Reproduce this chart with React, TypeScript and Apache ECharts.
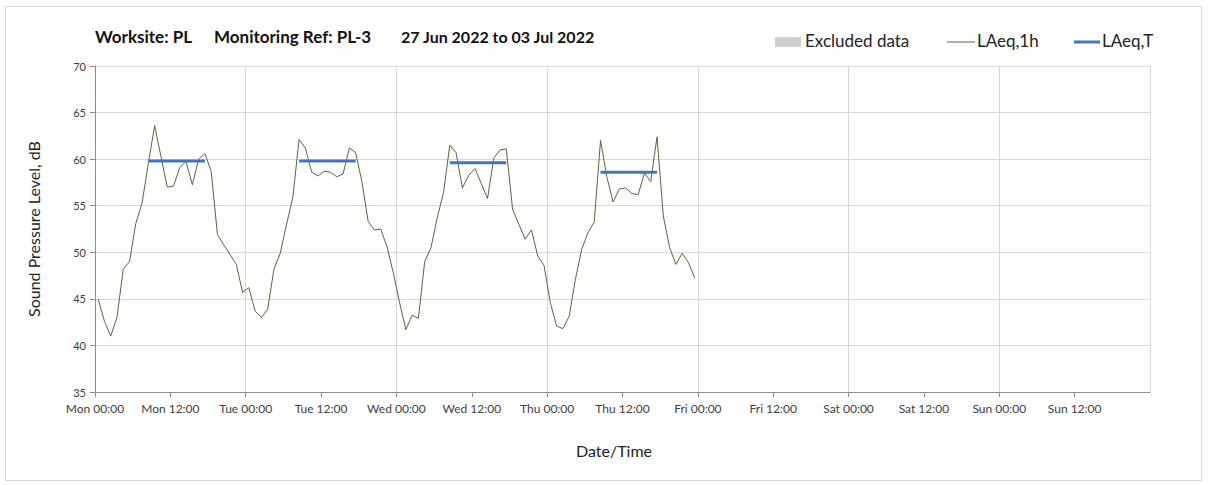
import React, { useEffect, useRef } from "react";
import * as echarts from "echarts";

// Hourly LAeq,1h values, Mon 00:30 .. Thu 23:30 (dB)
const laeq1h: number[] = [
  45.0, 42.6, 41.0, 43.0, 48.2, 49.0, 53.1, 55.3, 59.6, 63.6, 60.3, 57.0,
  57.1, 59.1, 59.75, 57.25, 60.0, 60.6, 58.7, 51.9, 50.8, 49.75, 48.7, 45.7,
  46.2, 43.7, 43.0, 43.9, 48.2, 49.9, 53.0, 55.9, 62.1, 61.2, 58.6, 58.2,
  58.7, 58.6, 58.1, 58.4, 61.2, 60.7, 57.6, 53.3, 52.4, 52.5, 50.6, 47.8,
  44.6, 41.7, 43.25, 42.9, 49.0, 50.5, 53.7, 56.4, 61.5, 60.7, 56.9, 58.25,
  59.0, 57.4, 55.75, 60.1, 61.0, 61.1, 54.6, 53.0, 51.4, 52.4, 49.6, 48.6,
  44.6, 42.1, 41.8, 43.1, 47.1, 50.3, 52.1, 53.25, 62.0, 58.1, 55.4, 56.8,
  56.9, 56.3, 56.2, 58.5, 57.6, 62.4, 53.9, 50.5, 48.7, 49.9, 48.9, 47.25,
];
const firstHour = 0.5; // hours after Mon 00:00 of first reading

// LAeq,T daytime periods (hours after Mon 00:00) and levels
const periodStart: number[] = [8.5, 32.5, 56.5, 80.5];
const periodEnd: number[] = [17.5, 41.5, 65.5, 89.5];
const laeqT: number[] = [59.8, 59.8, 59.6, 58.6];

const dayNames: string[] = ["Mon", "Tue", "Wed", "Thu", "Fri", "Sat", "Sun"];
const yTicks = { min: 35, max: 70, step: 5 };
const xRange = { min: 0, max: 168 };

const FONT = "Lato, 'Open Sans', sans-serif";

export default function App() {
  const ref = useRef<HTMLDivElement>(null);
  useEffect(() => {
    if (!ref.current) return;
    const chart = echarts.init(ref.current, undefined, { renderer: "svg" });

    const lineData = laeq1h.map((v, i) => [firstHour + i, v]);
    const tData: any[] = [];
    periodStart.forEach((s, k) => {
      tData.push([s, laeqT[k]]);
      tData.push([periodEnd[k], laeqT[k]]);
      tData.push([periodEnd[k], "-"]);
    });

    const labelFmt = (v: number) => {
      if (v >= xRange.max) return "";
      const d = dayNames[Math.floor(v / 24)];
      const h = v % 24 === 0 ? "00:00" : "12:00";
      return `${d} ${h}`;
    };

    chart.setOption({
      animation: false,
      textStyle: { fontFamily: FONT },
      grid: { left: 95, right: 58, top: 66, bottom: 93, outerBoundsMode: "none" },
      xAxis: [
        {
          type: "value",
          min: xRange.min,
          max: xRange.max,
          interval: 12,
          axisLine: { show: true, lineStyle: { color: "#8c8c8c" } },
          axisTick: { show: true, length: 5, lineStyle: { color: "#8c8c8c" } },
          axisLabel: {
            formatter: labelFmt,
            color: "#404040",
            fontSize: 12,
            margin: 10,
            showMaxLabel: false,
            fontFamily: FONT,
          },
          splitLine: { show: false },
        },
        {
          type: "value",
          min: xRange.min,
          max: xRange.max,
          interval: 24,
          position: "bottom",
          axisLine: { show: false },
          axisTick: { show: false },
          axisLabel: { show: false },
          splitLine: { show: true, lineStyle: { color: "#d9d9d9", width: 1 } },
        },
      ],
      yAxis: {
        type: "value",
        min: yTicks.min,
        max: yTicks.max,
        interval: yTicks.step,
        axisLine: { show: true, lineStyle: { color: "#8c8c8c" } },
        axisTick: { show: true, length: 5, lineStyle: { color: "#8c8c8c" } },
        axisLabel: { color: "#404040", fontSize: 11, margin: 9, fontFamily: FONT },
        splitLine: { show: true, lineStyle: { color: "#d9d9d9", width: 1 } },
        name: "Sound Pressure Level, dB",
        nameLocation: "middle",
        nameGap: 54,
        nameTextStyle: { fontSize: 16, color: "#222", fontFamily: FONT },
      },
      series: [
        {
          name: "LAeq,1h",
          type: "line",
          xAxisIndex: 0,
          data: lineData,
          showSymbol: false,
          symbol: "none",
          lineStyle: { color: "#4f6b3b", width: 1 },
          z: 3,
        },
        {
          name: "LAeq,T",
          type: "line",
          xAxisIndex: 0,
          data: tData,
          showSymbol: false,
          symbol: "none",
          connectNulls: false,
          lineStyle: { color: "#4472c4", width: 3 },
          z: 4,
        },
      ],
      graphic: [
        {
          type: "rect",
          shape: { x: 5.5, y: 6.5, width: 1196, height: 474 },
          style: { fill: "none", stroke: "#d9d9d9", lineWidth: 1 },
          silent: true,
        },
        {
          type: "text",
          left: 95,
          top: 28,
          style: { text: "Worksite: PL", font: `bold 17px ${FONT}`, fill: "#111" },
        },
        {
          type: "text",
          left: 214,
          top: 28,
          style: { text: "Monitoring Ref: PL-3", font: `bold 17px ${FONT}`, fill: "#111" },
        },
        {
          type: "text",
          left: 401,
          top: 28,
          style: { text: "27 Jun 2022 to 03 Jul 2022", font: `bold 16px ${FONT}`, fill: "#111" },
        },
        {
          type: "text",
          x: 614,
          y: 450,
          style: {
            text: "Date/Time",
            font: `16px ${FONT}`,
            fill: "#222",
            align: "center",
            verticalAlign: "middle",
          },
        },
        {
          type: "rect",
          shape: { x: 775, y: 37, width: 26, height: 10 },
          style: { fill: "#d0d0d0" },
        },
        {
          type: "text",
          left: 805,
          top: 32,
          style: { text: "Excluded data", font: `17px ${FONT}`, fill: "#222" },
        },
        {
          type: "line",
          shape: { x1: 947, y1: 42, x2: 975, y2: 42 },
          style: { stroke: "#4f6b3b", lineWidth: 1 },
        },
        {
          type: "text",
          left: 977,
          top: 32,
          style: { text: "LAeq,1h", font: `17px ${FONT}`, fill: "#222" },
        },
        {
          type: "line",
          shape: { x1: 1074, y1: 42, x2: 1100, y2: 42 },
          style: { stroke: "#4472c4", lineWidth: 3 },
        },
        {
          type: "text",
          left: 1102,
          top: 32,
          style: { text: "LAeq,T", font: `17px ${FONT}`, fill: "#222" },
        },
      ],
    });
    return () => chart.dispose();
  }, []);
  return (
    <div
      ref={ref}
      style={{ position: "fixed", left: 0, top: 0, width: 1208, height: 485, background: "#fff" }}
    />
  );
}
